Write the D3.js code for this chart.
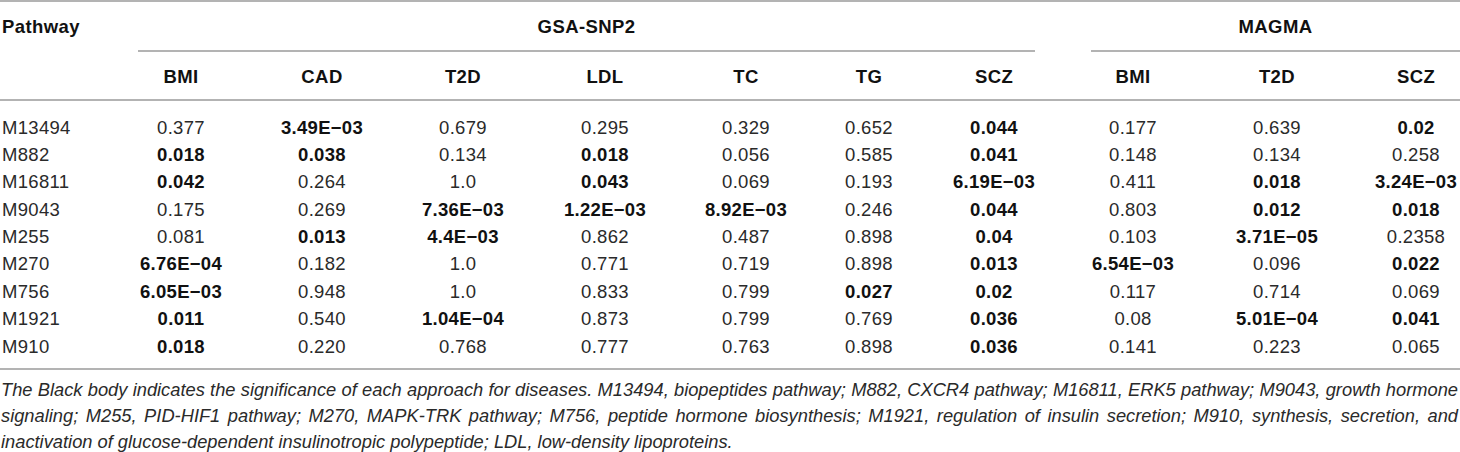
<!DOCTYPE html>
<html lang="en">
<head>
    <title>Pathway table</title>
    <script src="https://d3js.org/d3.v7.min.js"></script>
    <style>
        body { margin: 0; background: #fff; }
        svg { font-family: "Liberation Sans", Arial, sans-serif; }
        .rule { stroke: #9a9a9a; stroke-width: 1.5px; }
        .head { font-weight: bold; font-size: 18.5px; letter-spacing: 0.4px; fill: #111; }
        .cell { font-size: 18.5px; letter-spacing: 0.3px; fill: #2a2a2a; }
        .cell.sig { font-weight: bold; fill: #111; }
        .caption { font-style: italic; font-size: 18.3px; fill: #2a2a2a; }
    </style>
</head>
<body>
    <svg id="table"></svg>

    <script>
        var pathways = ["M13494", "M882", "M16811", "M9043", "M255", "M270", "M756", "M1921", "M910"];
        var gsaCols = ["BMI", "CAD", "T2D", "LDL", "TC", "TG", "SCZ"];
        var magmaCols = ["BMI", "T2D", "SCZ"];
        var groupLabels = ["GSA-SNP2", "MAGMA"];

        // one row per pathway, strings kept as printed
        var gsaValues = [
            ["0.377", "3.49E\u221203", "0.679", "0.295", "0.329", "0.652", "0.044"],
            ["0.018", "0.038", "0.134", "0.018", "0.056", "0.585", "0.041"],
            ["0.042", "0.264", "1.0", "0.043", "0.069", "0.193", "6.19E\u221203"],
            ["0.175", "0.269", "7.36E\u221203", "1.22E\u221203", "8.92E\u221203", "0.246", "0.044"],
            ["0.081", "0.013", "4.4E\u221203", "0.862", "0.487", "0.898", "0.04"],
            ["6.76E\u221204", "0.182", "1.0", "0.771", "0.719", "0.898", "0.013"],
            ["6.05E\u221203", "0.948", "1.0", "0.833", "0.799", "0.027", "0.02"],
            ["0.011", "0.540", "1.04E\u221204", "0.873", "0.799", "0.769", "0.036"],
            ["0.018", "0.220", "0.768", "0.777", "0.763", "0.898", "0.036"]
        ];
        var magmaValues = [
            ["0.177", "0.639", "0.02"],
            ["0.148", "0.134", "0.258"],
            ["0.411", "0.018", "3.24E\u221203"],
            ["0.803", "0.012", "0.018"],
            ["0.103", "3.71E\u221205", "0.2358"],
            ["6.54E\u221203", "0.096", "0.022"],
            ["0.117", "0.714", "0.069"],
            ["0.08", "5.01E\u221204", "0.041"],
            ["0.141", "0.223", "0.065"]
        ];

        var captionLines = [
            "The Black body indicates the significance of each approach for diseases. M13494, biopeptides pathway; M882, CXCR4 pathway; M16811, ERK5 pathway; M9043, growth hormone",
            "signaling; M255, PID-HIF1 pathway; M270, MAPK-TRK pathway; M756, peptide hormone biosynthesis; M1921, regulation of insulin secretion; M910, synthesis, secretion, and",
            "inactivation of glucose-dependent insulinotropic polypeptide; LDL, low-density lipoproteins."
        ];

        var width = 1460, height = 452;

        var svg = d3.select("#table")
            .attr("width", width)
            .attr("height", height);

        // column centres of the printed table (not evenly spaced)
        var xGsa = d3.scaleOrdinal()
            .domain(d3.range(gsaCols.length))
            .range([181, 322, 463, 605, 746, 869, 994]);
        var xMagma = d3.scaleOrdinal()
            .domain(d3.range(magmaCols.length))
            .range([1133, 1277, 1416]);
        var yRow = d3.scalePoint().domain(pathways).range([133.5, 352.5]);

        // spanner rules over each group
        var spans = [
            { label: groupLabels[0], x1: 138, x2: 1035 },
            { label: groupLabels[1], x1: 1091, x2: width }
        ];

        function isSig(v) {
            return parseFloat(v.replace("\u2212", "-")) < 0.05;
        }

        // full-width rules
        var ruleY = [1, 100, 369];
        svg.selectAll("line.full")
            .data(ruleY)
            .enter().append("line")
            .attr("class", "rule full")
            .attr("x1", 0)
            .attr("x2", width)
            .attr("y1", function (d) { return d; })
            .attr("y2", function (d) { return d; });

        svg.selectAll("line.span")
            .data(spans)
            .enter().append("line")
            .attr("class", "rule span")
            .attr("x1", function (d) { return d.x1; })
            .attr("x2", function (d) { return d.x2; })
            .attr("y1", 51)
            .attr("y2", 51);

        // header
        svg.append("text").attr("class", "head")
            .attr("x", 2).attr("y", 33).text("Pathway");

        svg.selectAll("text.group")
            .data(spans)
            .enter().append("text")
            .attr("class", "head group")
            .attr("x", function (d) { return (d.x1 + d.x2) / 2; })
            .attr("y", 33)
            .attr("text-anchor", "middle")
            .text(function (d) { return d.label; });

        svg.selectAll("text.gsaHead")
            .data(gsaCols)
            .enter().append("text")
            .attr("class", "head gsaHead")
            .attr("x", function (d, i) { return xGsa(i); })
            .attr("y", 83)
            .attr("text-anchor", "middle")
            .text(function (d) { return d; });

        svg.selectAll("text.magmaHead")
            .data(magmaCols)
            .enter().append("text")
            .attr("class", "head magmaHead")
            .attr("x", function (d, i) { return xMagma(i); })
            .attr("y", 83)
            .attr("text-anchor", "middle")
            .text(function (d) { return d; });

        // body rows
        var rows = svg.selectAll("g.row")
            .data(pathways)
            .enter().append("g")
            .attr("class", "row")
            .attr("transform", function (d) { return "translate(0," + yRow(d) + ")"; });

        rows.append("text")
            .attr("class", "cell")
            .attr("x", 2)
            .text(function (d) { return d; });

        rows.each(function (p, r) {
            var g = d3.select(this);
            g.selectAll("text.gsa")
                .data(gsaValues[r])
                .enter().append("text")
                .attr("class", function (v) { return "cell gsa" + (isSig(v) ? " sig" : ""); })
                .attr("x", function (v, i) { return xGsa(i); })
                .attr("text-anchor", "middle")
                .text(function (v) { return v; });
            g.selectAll("text.magma")
                .data(magmaValues[r])
                .enter().append("text")
                .attr("class", function (v) { return "cell magma" + (isSig(v) ? " sig" : ""); })
                .attr("x", function (v, i) { return xMagma(i); })
                .attr("text-anchor", "middle")
                .text(function (v) { return v; });
        });

        // caption, first lines justified to full width
        var captionY = [396, 422, 448];
        svg.selectAll("text.caption")
            .data(captionLines)
            .enter().append("text")
            .attr("class", "caption")
            .attr("x", 1)
            .attr("y", function (d, i) { return captionY[i]; })
            .text(function (d) { return d; })
            .each(function (d, i) {
                if (i === captionLines.length - 1) return;
                var w = this.getComputedTextLength();
                var spaces = d.split(" ").length - 1;
                var extra = (width - 3 - w) / spaces;
                d3.select(this).style("word-spacing", extra + "px");
            });
    </script>
</body>
</html>
